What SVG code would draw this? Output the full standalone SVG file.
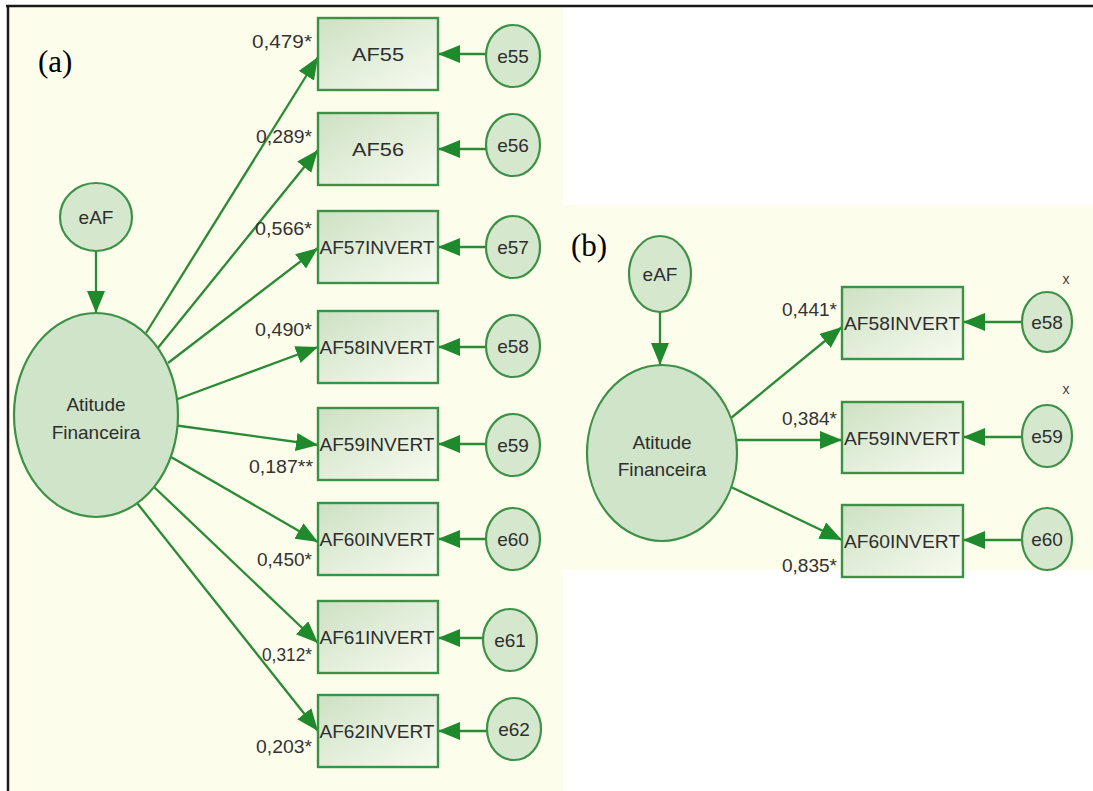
<svg xmlns="http://www.w3.org/2000/svg" width="1093" height="791" viewBox="0 0 1093 791">
<defs>
<linearGradient id="rg" x1="0" y1="0" x2="1" y2="1">
<stop offset="0" stop-color="#cde1c3"/>
<stop offset="1" stop-color="#f8fbf1"/>
</linearGradient>
<marker id="ah" markerUnits="userSpaceOnUse" markerWidth="24" markerHeight="20" refX="22" refY="9" orient="auto">
<path d="M0,0 L22,9 L0,18 Z" fill="#1f8a2c"/>
</marker>
<style>
.bg{fill:#fdfdec}
.rect{fill:url(#rg);stroke:#3d9147;stroke-width:2.4}
.circ{fill:#d5e8ce;stroke:#3d9147;stroke-width:2.2}
.lat{fill:#cfe4c8;stroke:#3d9147;stroke-width:2.2}
.ln{stroke:#2b8a36;stroke-width:2.3;fill:none;marker-end:url(#ah)}
.t{font-family:"Liberation Sans",Arial,sans-serif;font-size:19px;fill:#2e2e2e;text-anchor:middle;dominant-baseline:central}
.lab{font-family:"Liberation Sans",Arial,sans-serif;font-size:18px;fill:#333;text-anchor:end}
.pl{font-family:"Liberation Serif","Times New Roman",serif;font-size:31px;fill:#000}
.x{font-family:"Liberation Sans",Arial,sans-serif;font-size:14px;fill:#444;text-anchor:middle}
</style>
</defs>
<rect class="bg" x="9" y="7" width="554" height="784"/>
<rect class="bg" x="563" y="205" width="530" height="365"/>
<line x1="6" y1="6" x2="1093" y2="6" stroke="#1a1a1a" stroke-width="2.5"/>
<line x1="8" y1="5" x2="8" y2="791" stroke="#1a1a1a" stroke-width="2.5"/>
<text class="pl" x="38" y="72">(a)</text>
<text class="pl" x="571" y="256">(b)</text>

<g id="connectors">
<line class="ln" x1="96" y1="251" x2="96" y2="313"/>
<line class="ln" x1="146" y1="333" x2="318" y2="57"/>
<line class="ln" x1="157" y1="349" x2="318" y2="150"/>
<line class="ln" x1="168" y1="363" x2="318" y2="248"/>
<line class="ln" x1="175" y1="400" x2="318" y2="347"/>
<line class="ln" x1="173" y1="425" x2="318" y2="445"/>
<line class="ln" x1="171" y1="457" x2="318" y2="542"/>
<line class="ln" x1="154" y1="487" x2="318" y2="643"/>
<line class="ln" x1="137" y1="503" x2="318" y2="731"/>
<line class="ln" x1="486" y1="54" x2="438" y2="54"/>
<line class="ln" x1="486" y1="149" x2="438" y2="149"/>
<line class="ln" x1="486" y1="247" x2="438" y2="247"/>
<line class="ln" x1="486" y1="347" x2="438" y2="347"/>
<line class="ln" x1="486" y1="444" x2="438" y2="444"/>
<line class="ln" x1="486" y1="539" x2="438" y2="539"/>
<line class="ln" x1="484" y1="638" x2="438" y2="638"/>
<line class="ln" x1="487" y1="731" x2="438" y2="731"/>
<line class="ln" x1="660" y1="312" x2="660" y2="365"/>
<line class="ln" x1="731" y1="418" x2="842" y2="327"/>
<line class="ln" x1="737" y1="440" x2="842" y2="440"/>
<line class="ln" x1="731" y1="487" x2="842" y2="540"/>
<line class="ln" x1="1022" y1="322" x2="963" y2="322"/>
<line class="ln" x1="1022" y1="437" x2="963" y2="437"/>
<line class="ln" x1="1022" y1="540" x2="963" y2="540"/>
</g>

<g id="a-eAF"><ellipse class="circ" cx="96" cy="217" rx="36" ry="34"/><text class="t" x="96" y="217">eAF</text></g>
<g id="a-atitude"><ellipse class="lat" cx="96" cy="415" rx="82" ry="102"/><text class="t" x="96" y="404">Atitude</text><text class="t" x="96" y="432">Financeira</text></g>

<g id="a-AF55"><rect class="rect" x="318" y="18" width="120" height="72"/><text class="t" x="378" y="54" textLength="52" lengthAdjust="spacingAndGlyphs">AF55</text></g>
<g id="a-AF56"><rect class="rect" x="318" y="113" width="120" height="72"/><text class="t" x="378" y="149" textLength="52" lengthAdjust="spacingAndGlyphs">AF56</text></g>
<g id="a-AF57"><rect class="rect" x="318" y="211" width="120" height="72"/><text class="t" x="377" y="247" textLength="115" lengthAdjust="spacingAndGlyphs">AF57INVERT</text></g>
<g id="a-AF58"><rect class="rect" x="318" y="311" width="120" height="72"/><text class="t" x="377" y="347" textLength="115" lengthAdjust="spacingAndGlyphs">AF58INVERT</text></g>
<g id="a-AF59"><rect class="rect" x="318" y="408" width="120" height="72"/><text class="t" x="377" y="444" textLength="115" lengthAdjust="spacingAndGlyphs">AF59INVERT</text></g>
<g id="a-AF60"><rect class="rect" x="318" y="503" width="120" height="72"/><text class="t" x="377" y="539" textLength="115" lengthAdjust="spacingAndGlyphs">AF60INVERT</text></g>
<g id="a-AF61"><rect class="rect" x="318" y="601" width="120" height="72"/><text class="t" x="377" y="637" textLength="115" lengthAdjust="spacingAndGlyphs">AF61INVERT</text></g>
<g id="a-AF62"><rect class="rect" x="318" y="695" width="120" height="72"/><text class="t" x="377" y="731" textLength="115" lengthAdjust="spacingAndGlyphs">AF62INVERT</text></g>

<g id="a-e55"><ellipse class="circ" cx="513" cy="56" rx="27" ry="31"/><text class="t" x="513" y="56">e55</text></g>
<g id="a-e56"><ellipse class="circ" cx="513" cy="145" rx="27" ry="31"/><text class="t" x="513" y="145">e56</text></g>
<g id="a-e57"><ellipse class="circ" cx="513" cy="247" rx="27" ry="31"/><text class="t" x="513" y="247">e57</text></g>
<g id="a-e58"><ellipse class="circ" cx="513" cy="346" rx="27" ry="31"/><text class="t" x="513" y="346">e58</text></g>
<g id="a-e59"><ellipse class="circ" cx="513" cy="445" rx="27" ry="31"/><text class="t" x="513" y="445">e59</text></g>
<g id="a-e60"><ellipse class="circ" cx="513" cy="539" rx="27" ry="31"/><text class="t" x="513" y="539">e60</text></g>
<g id="a-e61"><ellipse class="circ" cx="510" cy="640" rx="27" ry="31"/><text class="t" x="510" y="640">e61</text></g>
<g id="a-e62"><ellipse class="circ" cx="514" cy="729" rx="27" ry="31"/><text class="t" x="514" y="729">e62</text></g>

<g id="a-labels">
<text class="lab" x="312" y="48" textLength="60" lengthAdjust="spacingAndGlyphs">0,479*</text>
<text class="lab" x="312" y="143" textLength="56" lengthAdjust="spacingAndGlyphs">0,289*</text>
<text class="lab" x="312" y="235" textLength="57" lengthAdjust="spacingAndGlyphs">0,566*</text>
<text class="lab" x="312" y="336" textLength="57" lengthAdjust="spacingAndGlyphs">0,490*</text>
<text class="lab" x="313" y="473" textLength="64" lengthAdjust="spacingAndGlyphs">0,187**</text>
<text class="lab" x="312" y="566" textLength="55" lengthAdjust="spacingAndGlyphs">0,450*</text>
<text class="lab" x="312" y="661" textLength="50" lengthAdjust="spacingAndGlyphs">0,312*</text>
<text class="lab" x="312" y="753" textLength="56" lengthAdjust="spacingAndGlyphs">0,203*</text>
</g>

<g id="b-eAF"><ellipse class="circ" cx="660" cy="274" rx="31" ry="38"/><text class="t" x="660" y="274">eAF</text></g>
<g id="b-atitude"><ellipse class="lat" cx="662" cy="453" rx="75" ry="88"/><text class="t" x="662" y="442">Atitude</text><text class="t" x="662" y="469">Financeira</text></g>
<g id="b-AF58"><rect class="rect" x="842" y="287" width="121" height="72"/><text class="t" x="902" y="323" textLength="116" lengthAdjust="spacingAndGlyphs">AF58INVERT</text></g>
<g id="b-AF59"><rect class="rect" x="842" y="402" width="121" height="71"/><text class="t" x="902" y="438" textLength="116" lengthAdjust="spacingAndGlyphs">AF59INVERT</text></g>
<g id="b-AF60"><rect class="rect" x="842" y="505" width="121" height="72"/><text class="t" x="902" y="541" textLength="116" lengthAdjust="spacingAndGlyphs">AF60INVERT</text></g>
<g id="b-e58"><ellipse class="circ" cx="1047" cy="322" rx="25" ry="30"/><text class="t" x="1047" y="322">e58</text></g>
<g id="b-e59"><ellipse class="circ" cx="1047" cy="436" rx="25" ry="31"/><text class="t" x="1047" y="436">e59</text></g>
<g id="b-e60"><ellipse class="circ" cx="1047" cy="539" rx="25" ry="31"/><text class="t" x="1047" y="539">e60</text></g>
<g id="b-labels">
<text class="lab" x="837" y="316" textLength="55" lengthAdjust="spacingAndGlyphs">0,441*</text>
<text class="lab" x="837" y="425" textLength="55" lengthAdjust="spacingAndGlyphs">0,384*</text>
<text class="lab" x="837" y="572" textLength="55" lengthAdjust="spacingAndGlyphs">0,835*</text>
<text class="x" x="1066" y="284">x</text>
<text class="x" x="1066" y="394">x</text>
</g>
</svg>
